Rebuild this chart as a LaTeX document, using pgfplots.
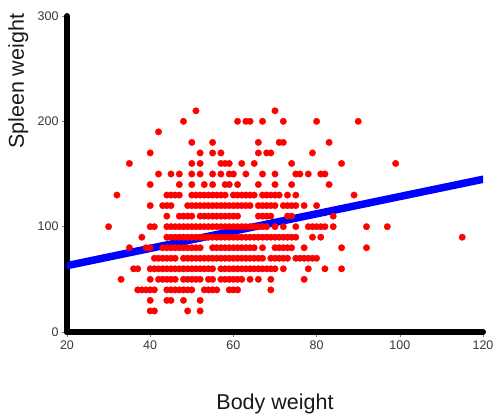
\documentclass[border=0pt]{standalone}
\usepackage{fontspec}
\setmainfont{Liberation Sans}
\usepackage{pgfplots}
\pgfplotsset{compat=1.18}
\begin{document}
\begin{tikzpicture}
\begin{axis}[
  scale only axis, width=416pt, height=316pt,
  xmin=20, xmax=120, ymin=0, ymax=300,
  axis lines=left,
  axis line style={-, line width=6pt, line cap=round, black},
  xtick={20,40,60,80,100,120}, ytick={0,100,200,300},
  tick align=outside, major tick length=5pt,
  tick style={gray, line width=0.6pt},
  ticklabel style={font=\fontsize{12.5}{14}\selectfont, text=black!78},
  /pgf/number format/assume math mode=true,
  xlabel={Body weight}, ylabel={Spleen weight},
  label style={font=\fontsize{21.5}{24}\selectfont, text=black!90},
  xlabel style={at={(axis description cs:0.5,-0.2437)}, anchor=base},
  ylabel style={at={(axis description cs:-0.1034,0.793)}, anchor=base},
]
\coordinate (O) at (rel axis cs:0,0);
\addplot[red, only marks, mark=*, mark size=3.3pt, mark options={draw=red, fill=red, line width=0.2pt}] coordinates {
(51,210) (70,210)
(48,200) (61,200) (63,200) (64,200) (67,200) (72,200) (80,200) (90,200)
(42,190)
(50,180) (55,180) (66,180) (71,180) (72,180) (83,180)
(40,170) (52,170) (55,170) (57,170) (66,170) (68,170) (69,170) (79,170)
(35,160) (50,160) (52,160) (57,160) (58,160) (59,160) (62,160) (65,160) (74,160) (86,160) (99,160)
(42,150) (45,150) (47,150) (50,150) (52,150) (55,150) (57,150) (59,150) (60,150) (63,150) (67,150) (70,150) (75,150) (76,150) (78,150) (81,150) (82,150)
(40,140) (47,140) (50,140) (53,140) (55,140) (58,140) (59,140) (61,140) (66,140) (70,140) (74,140) (83,140)
(32,130) (44,130) (45,130) (46,130) (47,130) (50,130) (51,130) (52,130) (53,130) (54,130) (55,130) (56,130) (57,130) (58,130) (60,130) (61,130) (62,130) (63,130) (64,130) (65,130) (67,130) (68,130) (69,130) (70,130) (71,130) (73,130) (75,130) (89,130)
(40,120) (43,120) (44,120) (45,120) (49,120) (50,120) (51,120) (52,120) (53,120) (54,120) (55,120) (56,120) (57,120) (58,120) (59,120) (60,120) (61,120) (62,120) (63,120) (64,120) (66,120) (67,120) (68,120) (69,120) (70,120) (72,120) (73,120) (74,120) (75,120) (77,120) (80,120)
(44,110) (47,110) (48,110) (49,110) (50,110) (52,110) (53,110) (54,110) (55,110) (56,110) (57,110) (58,110) (59,110) (60,110) (61,110) (66,110) (67,110) (68,110) (69,110) (73,110) (74,110) (84,110)
(30,100) (40,100) (41,100) (44,100) (45,100) (46,100) (47,100) (48,100) (49,100) (50,100) (51,100) (52,100) (53,100) (54,100) (55,100) (56,100) (57,100) (58,100) (59,100) (60,100) (61,100) (62,100) (63,100) (64,100) (65,100) (66,100) (67,100) (68,100) (70,100) (72,100) (75,100) (78,100) (79,100) (80,100) (81,100) (82,100) (84,100) (92,100) (97,100)
(38,90) (44,90) (45,90) (46,90) (47,90) (48,90) (49,90) (50,90) (51,90) (52,90) (53,90) (54,90) (55,90) (56,90) (57,90) (58,90) (59,90) (60,90) (61,90) (62,90) (63,90) (64,90) (65,90) (66,90) (67,90) (68,90) (69,90) (70,90) (71,90) (72,90) (73,90) (74,90) (75,90) (79,90) (81,90) (115,90)
(35,80) (39,80) (40,80) (43,80) (44,80) (45,80) (46,80) (47,80) (48,80) (49,80) (50,80) (51,80) (52,80) (55,80) (56,80) (57,80) (58,80) (59,80) (60,80) (61,80) (62,80) (63,80) (64,80) (65,80) (67,80) (70,80) (71,80) (72,80) (73,80) (74,80) (77,80) (86,80) (92,80)
(41,70) (42,70) (43,70) (44,70) (45,70) (46,70) (48,70) (49,70) (50,70) (51,70) (52,70) (53,70) (54,70) (55,70) (56,70) (57,70) (58,70) (59,70) (60,70) (61,70) (62,70) (63,70) (64,70) (65,70) (66,70) (67,70) (69,70) (70,70) (71,70) (72,70) (73,70) (75,70) (76,70) (77,70) (78,70) (79,70) (80,70)
(36,60) (37,60) (40,60) (41,60) (42,60) (43,60) (44,60) (45,60) (46,60) (47,60) (48,60) (49,60) (50,60) (51,60) (52,60) (53,60) (54,60) (55,60) (57,60) (58,60) (59,60) (60,60) (61,60) (62,60) (63,60) (64,60) (65,60) (66,60) (67,60) (68,60) (69,60) (70,60) (72,60) (78,60) (82,60) (86,60)
(33,50) (40,50) (42,50) (43,50) (44,50) (45,50) (46,50) (48,50) (49,50) (50,50) (51,50) (52,50) (54,50) (55,50) (57,50) (58,50) (59,50) (60,50) (61,50) (62,50) (64,50) (66,50) (69,50) (77,50)
(37,40) (38,40) (39,40) (40,40) (41,40) (44,40) (45,40) (46,40) (47,40) (48,40) (49,40) (50,40) (53,40) (54,40) (55,40) (56,40) (59,40) (60,40) (61,40) (69,40)
(40,30) (44,30) (45,30) (48,30) (52,30)
(40,20) (41,20) (49,20) (52,20)
};
\addplot[blue, line width=7.5pt, line cap=round] coordinates {(20,63) (120,145)};
\end{axis}
\pgfresetboundingbox
\path (O) ++(-67pt,-86pt) rectangle ++(497pt,418pt);
\end{tikzpicture}
\end{document}
